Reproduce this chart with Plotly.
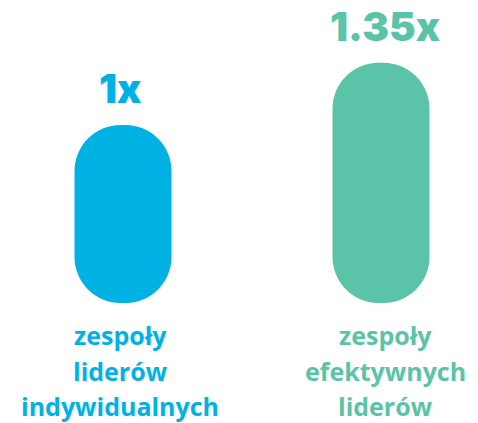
import plotly.graph_objects as go

categories = ["zespoły liderów indywidualnych", "zespoły efektywnych liderów"]
category_lines = [["zespoły", "liderów", "indywidualnych"],
                  ["zespoły", "efektywnych", "liderów"]]
values = [1.0, 1.35]
value_labels = ["1x", "1.35x"]
colors = ["#00B2E3", "#5BC4A8"]

x_pos = [0, 1]

fig = go.Figure()
fig.add_trace(go.Bar(
    x=x_pos, y=values, base=[0] * len(values),
    marker=dict(color=colors, line=dict(width=0), cornerradius=46),
    width=0.376, hoverinfo="skip", showlegend=False,
))

annotations = []
label_xshift = [-3, 4]
for i, (v, lab) in enumerate(zip(values, value_labels)):
    annotations.append(dict(
        x=x_pos[i], y=v, xref="x", yref="y", text=lab, showarrow=False,
        yanchor="bottom", yshift=10, xshift=label_xshift[i],
        font=dict(family="Inter", size=40, color=colors[i], weight=900),
    ))
    for j, line in enumerate(category_lines[i]):
        annotations.append(dict(
            x=x_pos[i], y=0, xref="x", yref="paper", text=line, showarrow=False,
            yanchor="top", yshift=-14 - 35.5 * j, xshift=label_xshift[i], borderpad=0,
            font=dict(family="Open Sans", size=25, color=colors[i], weight=700),
        ))

fig.update_layout(
    width=478, height=423,
    margin=dict(l=0, r=0, t=0, b=120),
    barmode="overlay",
    paper_bgcolor="white", plot_bgcolor="white",
    xaxis=dict(range=[-123 / 258, (478 - 123) / 258], visible=False),
    yaxis=dict(range=[0, 303 / 178], visible=False),
    annotations=annotations,
)

fig.write_html("out.html")
